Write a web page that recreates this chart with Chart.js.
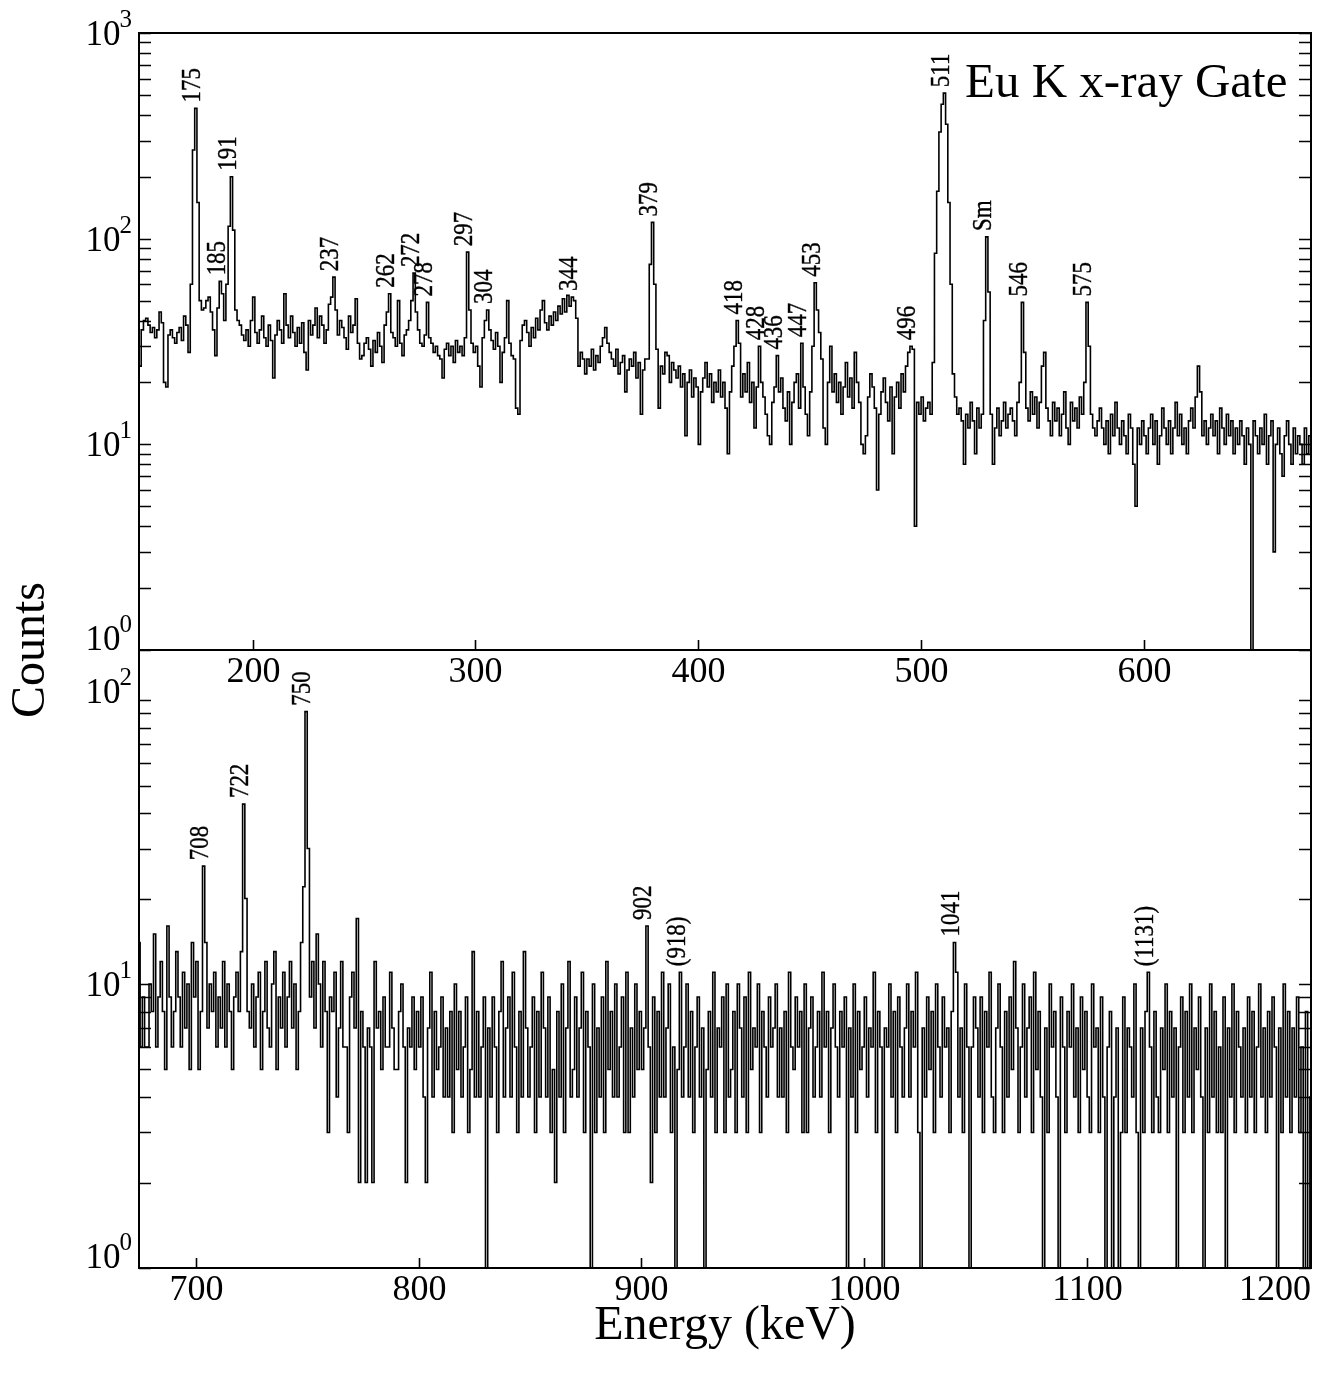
<!DOCTYPE html>
<html>
<head>
<meta charset="utf-8">
<script src="https://cdn.jsdelivr.net/npm/chart.js@4.4.1/dist/chart.umd.min.js"></script>
<style>
html,body{margin:0;padding:0;background:#fff;}
#wrap{position:relative;width:1322px;height:1376px;background:#fff;overflow:hidden;}
#wrap canvas{position:absolute;left:0;top:0;}
</style>
</head>
<body>
<div id="wrap">
<canvas id="cBottom" width="1322" height="1376" style="width:1322px;height:1376px;z-index:1"></canvas>
<canvas id="cTop" width="1322" height="700" style="width:1322px;height:700px;z-index:2"></canvas>
</div>
<script>
// ---------------- DATA (1 keV bins, counts) ----------------
const topStart = 140;           // first bin lower edge (keV)
const topCounts = [
 26,30,27,32,34,30,28,31,29,24,
 36,40,41,38,35,37,33,36,44,39,
 20,19,34,36,33,31,35,37,32,42,
 38,28,60,270,430,150,50,45,46,50,
 52,44,36,27,46,62,54,40,60,115,
 200,110,45,40,38,34,32,36,30,40,
 52,35,31,36,42,33,30,38,32,21,
 34,40,36,31,54,38,33,42,35,30,
 37,31,39,28,23,40,34,38,46,33,
 42,38,31,36,48,52,65,45,34,40,
 37,33,29,42,35,38,51,31,26,27,
 31,33,29,24,32,28,35,30,25,38,
 44,54,35,33,30,50,31,27,34,36,
 40,50,68,44,36,31,30,34,49,33,
 31,28,30,27,26,21,29,31,27,30,
 25,32,28,30,27,33,86,45,31,28,
 30,24,19,33,40,45,36,32,29,35,
 30,20,28,33,50,31,27,26,15,14,
 32,38,40,35,30,37,33,41,36,45,
 50,39,36,42,38,44,40,47,43,51,
 44,53,47,52,50,41,24,28,26,22,
 26,24,29,23,27,25,30,33,37,31,
 28,26,24,29,22,25,27,18,23,26,
 24,28,21,25,14,23,26,26,75,120,
 60,29,15,24,22,28,27,20,25,23,
 21,24,19,22,11,20,23,17,21,19,
 10,18,21,25,19,22,16,20,18,23,
 17,20,15,9,18,24,30,40,31,17,
 22,18,25,16,20,12,19,30,20,17,
 14,11,10,16,19,27,18,21,15,13,
 18,10,16,20,22,15,31,19,14,11,
 18,30,61,45,35,26,12,10,20,30,
 18,22,16,20,14,19,25,17,21,15,
 28,20,16,10,9,11,17,22,19,15,
 6,14,18,21,16,13,19,9,17,20,
 15,22,18,24,28,30,29,4,16,14,
 17,13,15,16,14,25,85,170,330,450,
 510,360,150,60,22,17,14,15,13,8,
 14,12,16,13,9,15,12,14,40,102,
 55,14,8,12,15,11,13,16,12,14,
 15,13,11,16,20,49,28,15,13,18,
 14,17,12,16,24,28,15,13,11,16,
 13,15,11,14,18,12,10,16,13,15,
 12,17,14,20,49,30,14,12,11,13,
 15,12,10,13,9,14,11,16,12,10,
 13,11,9,14,12,8,5,12,10,13,
 11,9,12,14,10,13,8,11,15,12,
 10,13,9,12,16,11,14,10,12,9,
 13,15,12,17,24,18,11,13,10,12,
 14,11,13,9,15,12,10,14,11,13,
 9,12,10,13,11,8,12,10,0,13,
 11,9,12,10,14,8,11,13,3,10,
 12,9,7,11,13,10,8,12,9,11,
 10,8,12,9,11,10,9,11,10,9
];
const bottomStart = 670;
const bottomCounts = [
 6,6,9,6,14,6,9,6,6,10,
 8,15,6,9,12,8,5,16,9,6,
 8,13,9,6,11,7,10,5,14,9,
 12,5,8,26,14,7,10,8,11,6,
 9,7,12,6,10,8,5,9,11,8,
 13,43,20,8,7,10,6,9,11,5,
 8,12,7,6,10,13,5,9,7,11,
 6,9,12,7,10,5,8,14,22,91,
 30,9,12,7,15,10,6,12,8,3,
 9,8,11,4,7,12,6,6,3,9,
 11,7,17,2,8,6,2,7,6,2,
 12,7,8,5,9,6,6,11,7,5,
 5,8,10,6,2,7,6,9,5,8,
 6,9,4,2,7,11,4,8,5,6,
 9,4,7,4,8,3,10,5,8,4,
 6,9,3,5,13,4,8,4,6,9,
 0,7,4,9,6,3,8,12,4,7,
 9,4,11,6,3,8,4,13,7,4,
 6,9,3,8,4,11,7,4,9,3,
 5,2,8,4,10,3,7,12,4,5,
 9,4,7,11,3,8,6,0,10,3,
 7,4,9,3,12,5,8,4,10,4,
 6,9,3,11,3,7,4,10,5,8,
 5,7,16,6,2,9,3,8,4,11,
 4,7,10,3,6,0,5,11,4,6,
 10,4,8,3,6,9,4,7,0,5,
 8,4,11,3,7,6,9,3,10,4,
 5,8,3,10,7,4,9,3,11,5,
 7,6,10,3,8,6,4,9,6,7,
 10,4,7,4,8,3,11,6,5,9,
 6,8,3,10,3,7,9,4,6,8,
 4,11,6,8,3,7,10,6,4,8,
 6,9,0,7,4,10,3,8,5,6,
 9,4,7,6,11,3,8,6,0,7,
 6,10,4,8,3,9,6,4,7,10,
 4,8,6,11,3,0,7,4,9,5,
 8,3,10,6,4,9,6,7,3,8,
 14,11,4,7,3,10,6,0,6,9,
 7,4,9,3,8,6,11,4,3,7,
 10,6,3,8,4,9,5,12,7,3,
 6,10,4,7,9,3,11,5,8,4,
 0,7,3,10,6,8,4,0,9,6,
 3,8,6,10,4,7,3,9,5,8,
 4,3,10,6,7,3,9,4,0,6,
 8,0,4,7,0,3,9,3,7,6,
 4,10,3,0,7,3,8,11,6,3,
 8,4,3,7,5,10,3,8,4,7,
 0,6,9,3,8,4,10,3,7,5,
 9,4,0,7,3,10,4,8,3,6,
 3,9,0,7,4,10,3,8,6,4,
 7,3,9,4,8,3,6,10,4,7,
 3,8,4,9,6,0,7,3,10,4,
 8,3,7,4,9,3,6,0,8,0,
 4,3,7,6,8,3,6,4,7,3
];

const topRange = [149, 675];
const bottomRange = [674.5, 1200.5];
const topYRange = [1, 1000];
const bottomYRange = [1, 150];

const topXTicks = [200, 300, 400, 500, 600];
const bottomXTicks = [700, 800, 900, 1000, 1100, 1200];

const topPeakText   = ['175','185','191','237','262','272','278','297','304','344','379','418','428','436','447','453','496','511','Sm','546','575'];
const topPeakEnergy = [174.5,185.5,190.5,236.5,261.5,272.5,278.5,296.5,305.5,343.5,379.5,417.5,427.5,435.5,446.5,452.5,495.5,510.5,529.5,545.5,574.5];
const bottomPeakText   = ['708','722','750','902','(918)','1041','(1131)'];
const bottomPeakEnergy = [703.5,721.5,749.5,902.5,917.5,1040.5,1127.5];

const titleText = 'Eu K x-ray Gate';
const yTitle = 'Counts';
const xTitle = 'Energy (keV)';

// ---------------- RENDERING ----------------
const SERIF = '"Liberation Serif","Times New Roman",Times,serif';

function toPoints(start, counts) {
  // zero counts drawn down to (below) the axis floor of the log scale
  return counts.map((c, i) => ({ x: start + i + 0.5, y: c > 0 ? c : 0.2 }));
}

function drawPow(ctx, e, rightX, baseY) {
  ctx.textAlign = 'left';
  ctx.textBaseline = 'alphabetic';
  ctx.font = '35px ' + SERIF;
  const w10 = ctx.measureText('10').width;
  ctx.font = '25px ' + SERIF;
  const we = ctx.measureText(String(e)).width;
  const x0 = rightX - we - w10;
  ctx.font = '35px ' + SERIF;
  ctx.fillText('10', x0, baseY);
  ctx.font = '25px ' + SERIF;
  ctx.fillText(String(e), x0 + w10 - 1, baseY - 18);
}

function panelPlugin(cfg) {
  return {
    id: 'panel_' + cfg.name,
    afterDatasetsDraw(chart) {
      const ctx = chart.ctx, a = chart.chartArea;
      const xs = chart.scales.x, ys = chart.scales.y;
      ctx.save();
      ctx.strokeStyle = '#000';
      ctx.fillStyle = '#000';
      // y ticks (log: 1..9 x decade) on left and right
      ctx.lineWidth = 1.6;
      ys.ticks.forEach(t => {
        const v = t.value;
        const e = Math.floor(Math.log10(v) + 1e-9);
        const m = v / Math.pow(10, e);
        if (Math.abs(m - Math.round(m)) > 1e-6) return;
        const py = Math.round(ys.getPixelForValue(v)) + 0.5;
        ctx.beginPath();
        ctx.moveTo(a.left, py); ctx.lineTo(a.left + 12, py);
        ctx.moveTo(a.right, py); ctx.lineTo(a.right - 12, py);
        ctx.stroke();
        if (Math.round(m) === 1) {
          let baseY;
          if (Math.abs(py - a.bottom) < 2) baseY = a.bottom;
          else if (cfg.topLabelOnBaseline && Math.abs(v - ys.max) > 1e-9 && ys.getPixelForValue(v) - a.top < 80) baseY = py + 2;
          else baseY = py + 11;
          drawPow(ctx, e, a.left - 6, baseY);
        }
      });
      // x ticks + labels
      ctx.font = '36px ' + SERIF;
      ctx.textBaseline = 'top';
      ctx.textAlign = 'center';
      cfg.xTicks.forEach(v => {
        const px = Math.round(xs.getPixelForValue(v)) + 0.5;
        if (px > a.left + 2 && px < a.right - 2) {
          ctx.beginPath(); ctx.moveTo(px, a.bottom); ctx.lineTo(px, a.bottom - 10); ctx.stroke();
        }
        const w = ctx.measureText(String(v)).width;
        let cx = px;
        if (cx + w / 2 > a.right) cx = a.right - w / 2;
        ctx.fillText(String(v), cx, a.bottom + 5);
      });
      // frame
      ctx.lineWidth = 2;
      ctx.strokeRect(a.left, a.top, a.right - a.left, a.bottom - a.top);
      // peak labels
      const counts = cfg.counts, start = cfg.start;
      cfg.peakText.forEach((txt, k) => {
        const e = cfg.peakEnergy[k];
        const i = Math.floor(e - start);
        let best = i;
        for (let j = i - 1; j <= i + 1; j++) if (counts[j] > counts[best]) best = j;
        const px = xs.getPixelForValue(start + best + 0.5);
        const py = ys.getPixelForValue(counts[best]);
        ctx.save();
        ctx.translate(px - 3, py - 6);
        ctx.rotate(-Math.PI / 2);
        ctx.scale(0.82, 1);
        ctx.font = '28px ' + SERIF;
        ctx.textAlign = 'left';
        ctx.textBaseline = 'middle';
        ctx.lineWidth = 0.4;
        ctx.fillText(txt, 0, 0);
        ctx.strokeText(txt, 0, 0);
        ctx.restore();
      });
      if (cfg.extra) cfg.extra(ctx, a);
      ctx.restore();
    }
  };
}

function makeChart(id, cfg) {
  return new Chart(document.getElementById(id), {
    type: 'line',
    data: { datasets: [{
      data: toPoints(cfg.start, cfg.counts),
      stepped: 'middle',
      borderColor: '#000',
      borderWidth: 1.6,
      pointRadius: 0,
      fill: false,
      tension: 0
    }] },
    options: {
      responsive: false,
      animation: false,
      events: [],
      layout: { padding: cfg.padding },
      plugins: { legend: { display: false }, tooltip: { enabled: false }, title: { display: false } },
      scales: {
        x: { type: 'linear', min: cfg.xRange[0], max: cfg.xRange[1],
             ticks: { display: false, stepSize: 100 }, grid: { display: false }, border: { display: false },
             afterFit(s) { s.height = cfg.xAxisHeight; } },
        y: { type: 'logarithmic', min: cfg.yRange[0], max: cfg.yRange[1],
             ticks: { display: false }, grid: { display: false }, border: { display: false },
             afterFit(s) { s.width = 139; } }
      }
    },
    plugins: [panelPlugin(cfg)]
  });
}

const bottomCfg = {
  name: 'bottom', start: bottomStart, counts: bottomCounts,
  xRange: bottomRange, yRange: bottomYRange, xTicks: bottomXTicks,
  peakText: bottomPeakText, peakEnergy: bottomPeakEnergy,
  padding: { top: 650, right: 11, left: 0, bottom: 0 }, xAxisHeight: 108,
  topLabelOnBaseline: true,
  extra(ctx, a) {
    ctx.fillStyle = '#000';
    ctx.font = '48px ' + SERIF;
    ctx.textAlign = 'center';
    ctx.textBaseline = 'alphabetic';
    ctx.fillText(xTitle, (a.left + a.right) / 2, 1339);
    ctx.save();
    ctx.translate(44, 650);
    ctx.rotate(-Math.PI / 2);
    ctx.fillText(yTitle, 0, 0);
    ctx.restore();
  }
};
const topCfg = {
  name: 'top', start: topStart, counts: topCounts,
  xRange: topRange, yRange: topYRange, xTicks: topXTicks,
  peakText: topPeakText, peakEnergy: topPeakEnergy,
  padding: { top: 33, right: 11, left: 0, bottom: 0 }, xAxisHeight: 50,
  topLabelOnBaseline: false,
  extra(ctx, a) {
    ctx.fillStyle = '#000';
    ctx.font = '49px ' + SERIF;
    ctx.textAlign = 'left';
    ctx.textBaseline = 'alphabetic';
    ctx.fillText(titleText, 965, 97);
  }
};

makeChart('cBottom', bottomCfg);
makeChart('cTop', topCfg);
</script>
</body>
</html>
